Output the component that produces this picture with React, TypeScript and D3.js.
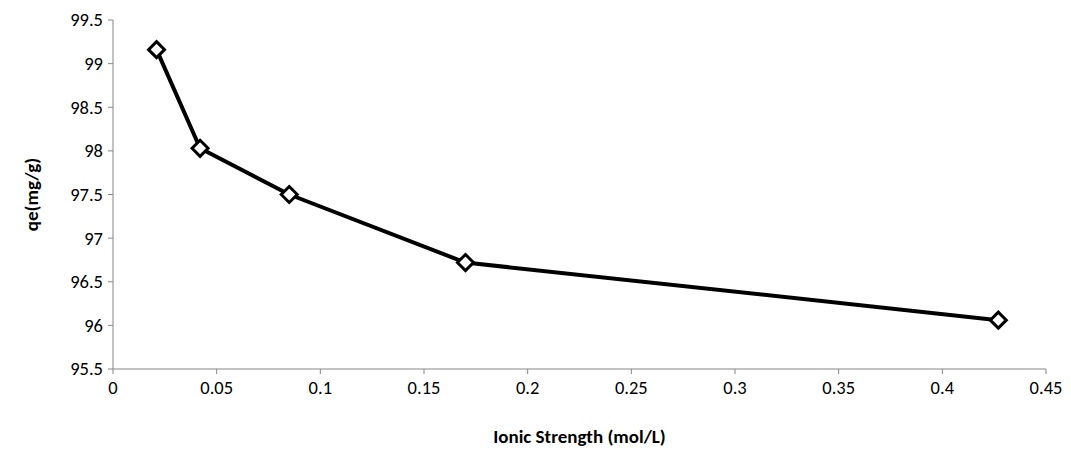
import * as d3 from "d3";

const ionicStrength = [0.021, 0.042, 0.085, 0.17, 0.427];
const qe = [99.16, 98.03, 97.5, 96.72, 96.06];
const xTicks = [0, 0.05, 0.1, 0.15, 0.2, 0.25, 0.3, 0.35, 0.4, 0.45];
const yTicks = [95.5, 96, 96.5, 97, 97.5, 98, 98.5, 99, 99.5];

const W = 1071;
const H = 452;
const m = { left: 113, right: 25, top: 20, bottom: 83 };

export default function App() {
  const x = d3.scaleLinear().domain([0, 0.45]).range([m.left, W - m.right]);
  const y = d3.scaleLinear().domain([95.5, 99.5]).range([H - m.bottom, m.top]);
  const pts = ionicStrength.map((v, i) => [x(v), y(qe[i])] as [number, number]);
  const line = d3.line()(pts) || "";
  const font = "Carlito, 'Open Sans', 'Liberation Sans', sans-serif";
  const axisColor = "#868686";

  return (
    <svg width={W} height={H} style={{ position: "absolute", left: 0, top: 0, background: "#fff" }} fontFamily={font}>
      <line x1={m.left} x2={m.left} y1={y(99.5)} y2={y(95.5)} stroke={axisColor} />
      <line x1={m.left} x2={x(0.45)} y1={y(95.5)} y2={y(95.5)} stroke={axisColor} />
      {yTicks.map((t) => (
        <g key={t}>
          <line x1={m.left - 5} x2={m.left} y1={y(t)} y2={y(t)} stroke={axisColor} />
          <text x={m.left - 10} y={y(t)} dy="0.35em" textAnchor="end" fontSize={18.5} fill="#000">
            {t}
          </text>
        </g>
      ))}
      {xTicks.map((t) => (
        <g key={t}>
          <line x1={x(t)} x2={x(t)} y1={y(95.5)} y2={y(95.5) + 5} stroke={axisColor} />
          <text x={x(t)} y={y(95.5) + 25} textAnchor="middle" fontSize={18.5} fill="#000">
            {t}
          </text>
        </g>
      ))}
      <path d={line} fill="none" stroke="#000" strokeWidth={4} strokeLinejoin="round" />
      {pts.map(([px, py], i) => (
        <path
          key={i}
          d={`M${px},${py - 8}L${px + 8},${py}L${px},${py + 8}L${px - 8},${py}Z`}
          fill="#fff"
          stroke="#000"
          strokeWidth={3}
        />
      ))}
      <text x={(m.left + x(0.45)) / 2} y={H - 9} textAnchor="middle" fontSize={19} fontWeight="bold">
        Ionic Strength (mol/L)
      </text>
      <text
        transform={`translate(38,${(y(95.5) + y(99.5)) / 2}) rotate(-90)`}
        textAnchor="middle"
        fontSize={19}
        fontWeight="bold"
      >
        qe(mg/g)
      </text>
    </svg>
  );
}
